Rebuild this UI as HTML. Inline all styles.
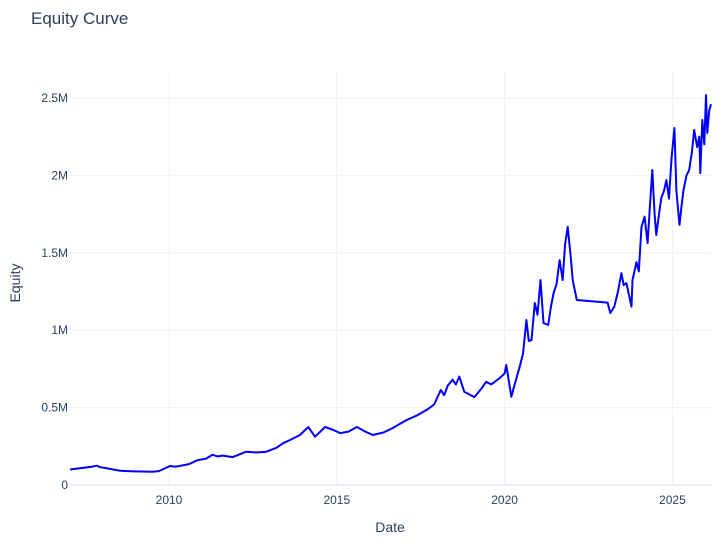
<!DOCTYPE html>
<html><head><meta charset="utf-8">
<style>
body{margin:0;background:#fff;}
svg text{font-family:"Liberation Sans",Arial,sans-serif;fill:#2a3f5f;}
</style></head>
<body>
<svg id="chart" width="727" height="543" xmlns="http://www.w3.org/2000/svg">
<text x="31" y="24" font-size="17">Equity Curve</text>
<g id="grid"></g>
<g id="axes"></g>
<path id="line" fill="none" stroke="#0000ff" stroke-width="2" stroke-linejoin="round"></path>
<text x="390" y="532" font-size="14" text-anchor="middle">Date</text>
<text x="0" y="0" font-size="14" text-anchor="middle" transform="translate(20,283) rotate(-90)">Equity</text>
</svg>
<script>
const years = [2007.05,2007.4,2007.7,2007.85,2007.95,2008.1,2008.55,2009.0,2009.5,2009.7,2010.03,2010.2,2010.6,2010.85,2011.1,2011.3,2011.45,2011.6,2011.9,2012.3,2012.6,2012.9,2013.2,2013.4,2013.6,2013.9,2014.15,2014.35,2014.65,2014.9,2015.1,2015.35,2015.6,2015.8,2016.07,2016.4,2016.67,2017.08,2017.4,2017.68,2017.9,2018.1,2018.2,2018.3,2018.45,2018.55,2018.65,2018.8,2019.1,2019.3,2019.45,2019.6,2019.85,2020.0,2020.05,2020.2,2020.3,2020.45,2020.55,2020.65,2020.72,2020.8,2020.9,2020.98,2021.07,2021.16,2021.3,2021.38,2021.46,2021.55,2021.64,2021.73,2021.8,2021.88,2021.97,2022.03,2022.15,2023.07,2023.15,2023.27,2023.38,2023.48,2023.55,2023.63,2023.78,2023.81,2023.93,2024.0,2024.08,2024.17,2024.26,2024.33,2024.4,2024.47,2024.52,2024.6,2024.67,2024.75,2024.82,2024.9,2024.97,2025.06,2025.12,2025.18,2025.21,2025.27,2025.33,2025.42,2025.5,2025.58,2025.65,2025.74,2025.8,2025.83,2025.89,2025.95,2026.0,2026.04,2026.1,2026.15];
const equity = [100,110,118,125,115,110,92,88,86,90,123,118,135,160,170,195,185,190,180,215,210,215,240,270,290,323,375,312,375,355,335,345,375,350,323,340,368,420,450,485,520,614,580,640,680,650,700,602,568,620,667,650,690,720,775,570,650,764,850,1066,930,937,1176,1100,1324,1046,1034,1150,1240,1300,1453,1324,1550,1668,1475,1324,1195,1178,1111,1152,1250,1369,1290,1305,1152,1324,1440,1380,1668,1733,1563,1800,2035,1750,1615,1750,1854,1900,1970,1850,2100,2306,1900,1757,1680,1800,1906,2000,2035,2150,2293,2183,2250,2015,2358,2200,2519,2274,2422,2460];
const yTicks = [0,500,1000,1500,2000,2500];
const yTickLabels = ["0","0.5M","1M","1.5M","2M","2.5M"];
const xTicks = [2010,2015,2020,2025];
const xTickLabels = ["2010","2015","2020","2025"];

const L=70,R=711,T=72,B=485;
const xMin=2007.05,xMax=2026.15,yMin=0,yMax=2668;
const X=v=>L+(v-xMin)/(xMax-xMin)*(R-L);
const Y=v=>B-(v-yMin)/(yMax-yMin)*(B-T);
const NS="http://www.w3.org/2000/svg";
const grid=document.getElementById('grid'),axes=document.getElementById('axes');
function mk(tag,attrs,parent){const e=document.createElementNS(NS,tag);for(const k in attrs)e.setAttribute(k,attrs[k]);parent.appendChild(e);return e;}
xTicks.forEach((t,i)=>{
  const l=mk('line',{x1:X(t),x2:X(t),y1:T,y2:B,stroke:'#ebf0f8','stroke-width':1},grid);
  
  
  const tx=mk('text',{x:X(t),y:B+19,'font-size':12,'text-anchor':'middle'},axes);
  tx.textContent=xTickLabels[i];
  
  
});
yTicks.forEach((t,i)=>{
  const l=mk('line',{x1:L,x2:R,y1:Y(t),y2:Y(t),stroke:'#ebf0f8','stroke-width':t===0?2:1},grid);
  
  
  const tx=mk('text',{x:L-2,y:Y(t)+4,'font-size':12,'text-anchor':'end'},axes);
  tx.textContent=yTickLabels[i];
  
  
});
document.getElementById('line').setAttribute('d',years.map((v,i)=>(i?'L':'M')+X(v).toFixed(1)+','+Y(equity[i]).toFixed(1)).join(''));
</script>
</body></html>
